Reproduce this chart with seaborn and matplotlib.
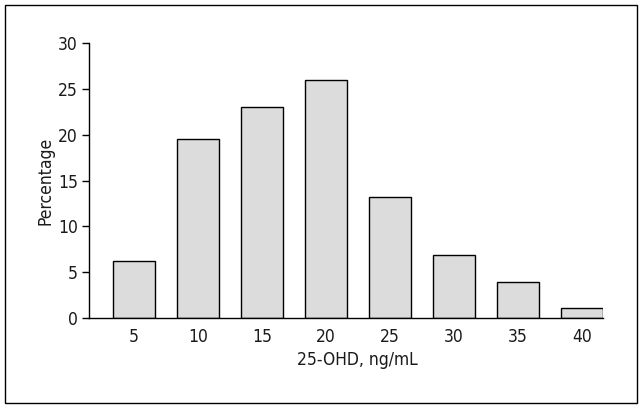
import numpy as np
import pandas as pd
import seaborn as sns
import matplotlib.pyplot as plt
from matplotlib.patches import Rectangle

# Data
ohd_bins = ["5", "10", "15", "20", "25", "30", "35", "40"]
percentage = [6.2, 19.5, 23.0, 26.0, 13.2, 6.9, 3.9, 1.1]

df = pd.DataFrame({"bin": ohd_bins, "pct": percentage})

sns.set_theme(style="white")
plt.rcParams['font.family'] = ['DejaVu Sans']
plt.rcParams['font.stretch'] = 'condensed'
plt.rcParams['text.color'] = '#1a1a1a'
plt.rcParams['xtick.color'] = '#1a1a1a'
plt.rcParams['ytick.color'] = '#1a1a1a'
plt.rcParams['axes.labelcolor'] = '#1a1a1a'

fig = plt.figure(figsize=(6.42, 4.08), dpi=100)
ax = fig.add_axes([89 / 642, 1 - 318 / 408, (603 - 89) / 642, (318 - 43) / 408])

sns.barplot(data=df, x="bin", y="pct", order=ohd_bins, color="#dcdcdc",
            edgecolor="black", linewidth=1.0, width=0.65, saturation=1, ax=ax)

ax.set_xlim(-0.7, 7.325)
ax.set_ylim(0, 30)
ax.set_yticks(range(0, 31, 5))
ax.set_xlabel("25-OHD, ng/mL", fontsize=12.5)
ax.set_ylabel("Percentage", fontsize=12.5)
ax.xaxis.set_label_coords(0.523, -0.12)
ax.yaxis.set_label_coords(-0.068, 0.5)
ax.tick_params(axis="y", left=True, length=5, width=1, color="black", labelsize=12.5, pad=3)
ax.tick_params(axis="x", bottom=False, labelsize=12.5, pad=1)
sns.despine(ax=ax)
for s in ["left", "bottom"]:
    ax.spines[s].set_color("black")
    ax.spines[s].set_linewidth(1.0)

# outer frame
fig.patches.append(Rectangle((5 / 642, 5 / 408), 632 / 642, 398 / 408, transform=fig.transFigure,
                             fill=False, edgecolor="black", linewidth=1.0))

fig.savefig("out.png", dpi=100)
